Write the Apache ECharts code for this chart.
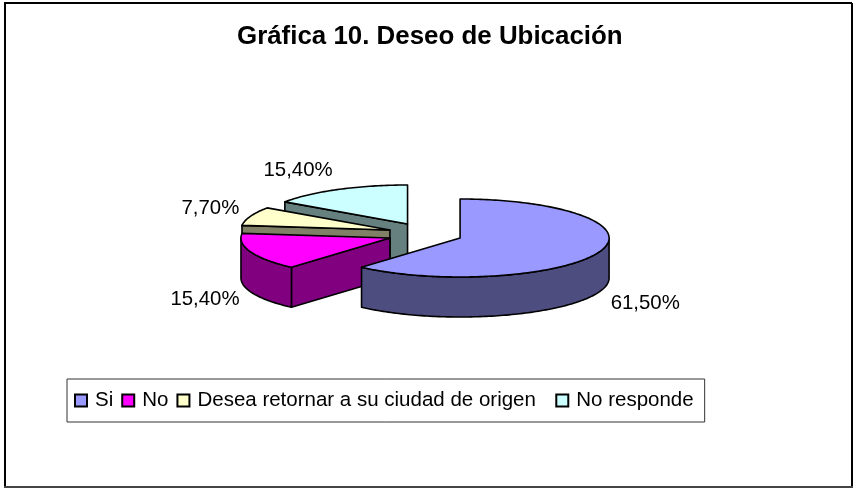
<!DOCTYPE html>
<html><head><meta charset="utf-8">
<style>html,body{margin:0;padding:0;background:#fff}#c{width:853px;height:489px}</style>
<script src="https://cdn.jsdelivr.net/npm/echarts@6/dist/echarts.min.js"></script>
</head><body><div id="c"></div>
<script>
const categories = ['Si', 'No', 'Desea retornar a su ciudad de origen', 'No responde'];
const values = [61.5, 15.4, 7.7, 15.4];
const topColors = ['#9999FF', '#FF00FF', '#FFFFCC', '#CCFFFF'];
const wallColors = ['#4D4D80', '#800080', '#808066', '#668080'];

const FONT = '"Liberation Sans", Arial, sans-serif';
const geo = {cx: 425, cy: 234, rx: 149, ry: 39, depth: 40, explodeX: 37.5, explodeY: 11.3};
const total = values.reduce((a, b) => a + b, 0);
const startFrac = values.map((v, i) => values.slice(0, i).reduce((a, b) => a + b, 0) / total);
const TAU = Math.PI * 2;

function renderSlice(params, api) {
  const i = params.seriesIndex;
  const a = startFrac[i] * TAU;
  const b = a + values[i] / total * TAU;
  const mid = (a + b) / 2;
  const ox = geo.cx + geo.explodeX * Math.sin(mid);
  const oy = geo.cy - geo.explodeY * Math.cos(mid);
  const pt = (t, d) => [ox + geo.rx * Math.sin(t), oy - geo.ry * Math.cos(t) + (d || 0)];
  const arc = (s, e, d) => {
    const n = Math.max(2, Math.ceil(Math.abs(e - s) / 0.02));
    const r = [];
    for (let k = 0; k <= n; k++) r.push(pt(s + (e - s) * k / n, d));
    return r;
  };
  const lineStyle = {stroke: '#000', lineWidth: 1.6, lineJoin: 'round'};
  const kids = [];
  const poly = (points, fill) => kids.push({type: 'polygon', shape: {points}, style: Object.assign({fill}, lineStyle), silent: true});
  const wall = t => poly([[ox, oy], pt(t), pt(t, geo.depth), [ox, oy + geo.depth]], wallColors[i]);
  if (Math.sin(a) < -1e-6) wall(a);
  if (Math.sin(b) > 1e-6) wall(b);
  const s = Math.max(a, Math.PI / 2), e = Math.min(b, Math.PI * 1.5);
  if (e > s) poly(arc(s, e, 0).concat(arc(e, s, geo.depth)), wallColors[i]);
  poly([[ox, oy]].concat(arc(a, b, 0)), topColors[i]);

  const p = pt(mid, Math.cos(mid) < 0 ? geo.depth : 0);
  const right = Math.sin(mid) > 0;
  kids.push({type: 'text', silent: true, style: {
    x: p[0] + Math.sin(mid) * 12, y: p[1] - Math.cos(mid) * 22 + (right ? 4 : 0),
    text: values[i].toFixed(2).replace('.', ',') + '%',
    align: right ? 'left' : 'right', verticalAlign: 'middle',
    fill: '#000', font: '20.4px ' + FONT
  }});
  return {type: 'group', children: kids};
}

const chart = echarts.init(document.getElementById('c'), null, {renderer: 'canvas'});
chart.setOption({
  animation: false,
  backgroundColor: '#fff',
  title: {text: 'Gráfica 10. Deseo de Ubicación', left: 232, top: 19, padding: 5,
    textStyle: {fontFamily: FONT, fontSize: 25.9, fontWeight: 'bold', color: '#000'}},
  legend: {
    left: 67, top: 379, orient: 'horizontal', icon: 'rect',
    itemWidth: 12, itemHeight: 12, itemGap: 8,
    padding: [11, 11, 11, 7], borderColor: '#333', borderWidth: 1,
    textStyle: {fontFamily: FONT, fontSize: 20.5, color: '#000', padding: [0, 0, 0, 3]},
    formatter: name => name === categories[2] ? name + '\u00a0\u00a0' : name,
    data: categories
  },
  graphic: [
    {type: 'line', silent: true, shape: {x1: 5, y1: 3, x2: 5, y2: 487}, style: {stroke: '#000', lineWidth: 2}},
    {type: 'line', silent: true, shape: {x1: 4, y1: 3, x2: 852, y2: 3}, style: {stroke: '#000', lineWidth: 2}},
    {type: 'line', silent: true, shape: {x1: 852, y1: 3, x2: 852, y2: 487}, style: {stroke: '#000', lineWidth: 2}},
    {type: 'line', silent: true, shape: {x1: 4, y1: 487, x2: 853, y2: 487}, style: {stroke: '#444', lineWidth: 2}}
  ],
  series: categories.map((name, i) => ({
    type: 'custom', name, coordinateSystem: 'none', renderItem: renderSlice,
    z: 2 + (i === 0 ? 4 : i === 1 ? 3 : i === 2 ? 2 : 1),
    data: [values[i]],
    itemStyle: {color: topColors[i], borderColor: '#000', borderWidth: 1}
  }))
});
</script></body></html>
